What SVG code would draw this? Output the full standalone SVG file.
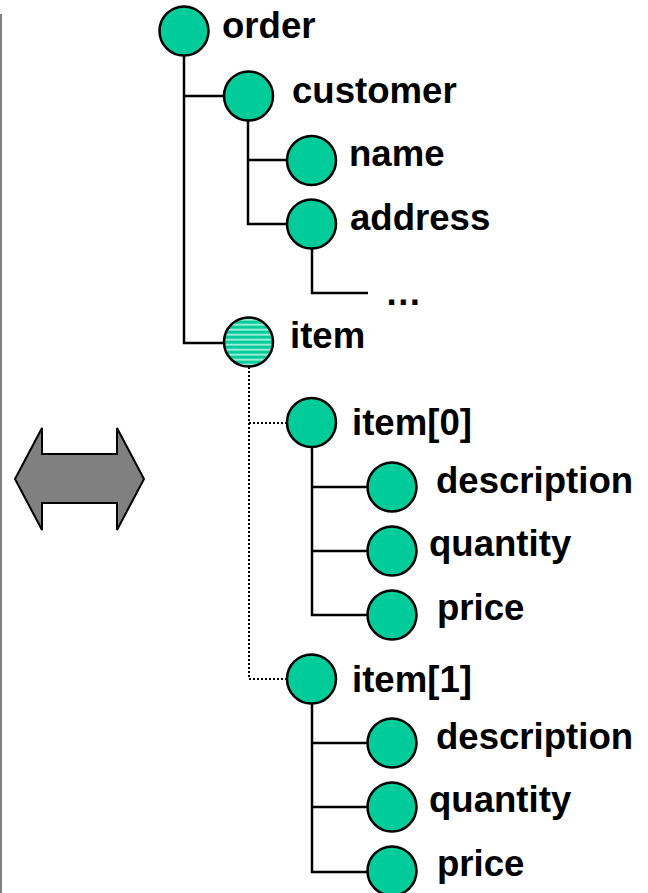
<svg xmlns="http://www.w3.org/2000/svg" width="648" height="893" viewBox="0 0 648 893">
<style>
.n{fill:#00CC99;stroke:#000;stroke-width:2.5}
.t{font-family:"Liberation Sans",Arial,sans-serif;font-weight:bold;font-size:36.6px;fill:#000}
.c{fill:none;stroke:#000;stroke-width:2.5}
.d{fill:none;stroke:#000;stroke-width:2;stroke-dasharray:2 2}
</style>
<defs>
<pattern id="stripes" patternUnits="userSpaceOnUse" width="10" height="5" x="0" y="0.5">
<rect width="10" height="5" fill="#00CC99"/>
<rect y="3.6" width="10" height="1.2" fill="#fff"/>
</pattern>
</defs>
<rect width="648" height="893" fill="#fff"/>
<line x1="1" y1="14" x2="1" y2="893" stroke="#808080" stroke-width="2"/>
<g id="double-arrow">
<polygon points="15,479 42,428 42,454 117,454 117,428 144,479 117,530 117,503 42,503 42,530" fill="#808080" stroke="#000" stroke-width="2"/>
</g>
<g id="connectors">
<polyline class="c" points="184,56 184,343 224,343"/>
<line class="c" x1="184" y1="96" x2="224" y2="96"/>
<polyline class="c" points="248,120 248,224 287,224"/>
<line class="c" x1="248" y1="160" x2="287" y2="160"/>
<polyline class="c" points="312,248 312,293 368,293"/>
<polyline class="d" points="249,367 249,679 287,679"/>
<line class="d" x1="249" y1="423" x2="287" y2="423"/>
<polyline class="c" points="312,447 312,615 368,615"/>
<line class="c" x1="312" y1="487" x2="368" y2="487"/>
<line class="c" x1="312" y1="551" x2="368" y2="551"/>
<polyline class="c" points="312,703 312,872 368,872"/>
<line class="c" x1="312" y1="743" x2="368" y2="743"/>
<line class="c" x1="312" y1="807" x2="368" y2="807"/>
</g>
<g id="order"><circle class="n" cx="184" cy="31" r="24.5"/><text class="t" x="222" y="38">order</text></g>
<g id="customer"><circle class="n" cx="248.5" cy="96" r="24.5"/><text class="t" x="292" y="103">customer</text></g>
<g id="name"><circle class="n" cx="311.5" cy="160.5" r="24.5"/><text class="t" x="349" y="166">name</text></g>
<g id="address"><circle class="n" cx="311.5" cy="224" r="24.5"/><text class="t" x="350" y="230">address</text></g>
<g id="ellipsis"><text class="t" x="385" y="305">…</text></g>
<g id="item"><circle cx="248.5" cy="342" r="24.5" fill="url(#stripes)" stroke="#000" stroke-width="2.5"/><text class="t" x="290" y="348">item</text></g>
<g id="item0"><circle class="n" cx="311.5" cy="422.5" r="24.5"/><text class="t" x="352" y="435">item[0]</text></g>
<g id="item0-description"><circle class="n" cx="392" cy="487" r="24.5"/><text class="t" x="436" y="493">description</text></g>
<g id="item0-quantity"><circle class="n" cx="392" cy="551" r="24.5"/><text class="t" x="429" y="556">quantity</text></g>
<g id="item0-price"><circle class="n" cx="392" cy="615" r="24.5"/><text class="t" x="437" y="620">price</text></g>
<g id="item1"><circle class="n" cx="311.5" cy="679" r="24.5"/><text class="t" x="352" y="692">item[1]</text></g>
<g id="item1-description"><circle class="n" cx="392" cy="743" r="24.5"/><text class="t" x="436" y="749">description</text></g>
<g id="item1-quantity"><circle class="n" cx="392" cy="807" r="24.5"/><text class="t" x="429" y="812">quantity</text></g>
<g id="item1-price"><circle class="n" cx="392" cy="871" r="24.5"/><text class="t" x="437" y="876">price</text></g>
</svg>
